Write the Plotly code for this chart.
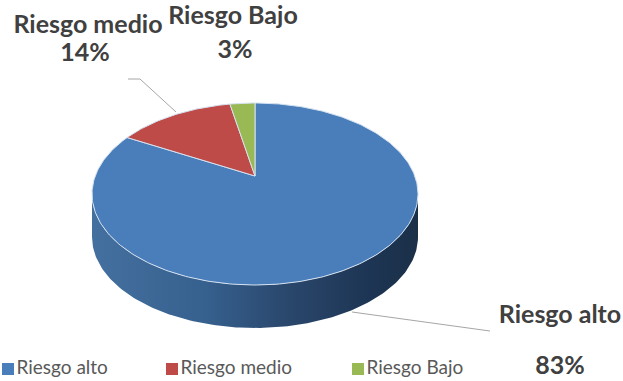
import numpy as np
import plotly.graph_objects as go

# Chart data
categories = ["Riesgo alto", "Riesgo medio", "Riesgo Bajo"]
percentages = [83, 14, 3]

# Slice and label styling
slice_colors = ["#4A7EBB", "#BE4B48", "#98B954"]
text_dark = "#404040"
text_legend = "#595959"
label_font = "Lato"

# Tilted disc geometry, in canvas pixels
WIDTH, HEIGHT = 623, 381
CX, CY = 255, 194
RX, RY = 163, 91
APEX_RISE = 18
DEPTH = 43


def project(theta):
    """Perspective projection of a unit circle angle (clockwise from 12 o'clock)."""
    u, v = np.sin(theta), np.cos(theta)
    p = -APEX_RISE / RY
    w = 1 - p * v
    a = RX * np.sqrt(1 - p * p)
    return CX + a * u / w, CY - (RY * v + APEX_RISE) / w


fig = go.Figure()

# Front wall of the disc: swept along the rim that faces the viewer
theta_edge = np.arccos(-APEX_RISE / RY)
rim = np.linspace(theta_edge, 2 * np.pi - theta_edge, 160)
rim_x, rim_y = project(rim)
fig.add_trace(go.Scatter(
    x=np.r_[rim_x, rim_x[::-1]],
    y=np.r_[rim_y, rim_y[::-1] + DEPTH],
    mode="lines", line=dict(width=0), fill="toself",
    fillgradient=dict(type="horizontal", colorscale=[
        [0, "#44709F"], [0.35, "#36608E"], [0.6, "#2A476C"], [0.85, "#1D3554"], [1, "#1B3048"],
    ]),
    hoverinfo="skip", showlegend=False,
))

# Top face: one wedge per category, clockwise from 12 o'clock
edges = np.cumsum([0] + percentages) / sum(percentages) * 2 * np.pi
apex_y = CY - APEX_RISE
for name, color, start, stop in zip(categories, slice_colors, edges[:-1], edges[1:]):
    arc = np.linspace(start, stop, max(int((stop - start) * 60), 8))
    arc_x, arc_y = project(arc)
    fig.add_trace(go.Scatter(
        x=np.r_[CX, arc_x, CX], y=np.r_[apex_y, arc_y, apex_y],
        mode="lines", line=dict(color="#D5E2F0", width=1),
        fill="toself", fillcolor=color, name=name, showlegend=False,
    ))

# Leader lines from the slices to their labels
leader_x = [[128, 140, 176], [352, 430, 490]]
leader_y = [[79, 79, 112], [312, 323, 331]]
for lx, ly in zip(leader_x, leader_y):
    fig.add_trace(go.Scatter(x=lx, y=ly, mode="lines",
                             line=dict(color="#A6A6A6", width=1),
                             hoverinfo="skip", showlegend=False))

# Data labels
label_x = [88, 85, 233, 235, 560, 560]
label_y = [27, 55, 18, 52, 317, 368]
label_text = [categories[1], f"{percentages[1]}%",
              categories[2], f"{percentages[2]}%",
              categories[0], f"{percentages[0]}%"]
fig.add_trace(go.Scatter(
    x=label_x, y=label_y, text=label_text, mode="text",
    textposition="middle center",
    textfont=dict(family=label_font, size=25, color=text_dark, weight="bold"),
    hoverinfo="skip", showlegend=False,
))

# Legend row along the bottom
key_x = [8, 172, 358]
key_y = 369
fig.add_trace(go.Scatter(
    x=key_x, y=[key_y] * 3, text=categories, mode="markers+text",
    marker=dict(symbol="square", size=12, color=slice_colors),
    textposition="middle right",
    textfont=dict(family=label_font, size=19, color=text_legend),
    hoverinfo="skip", showlegend=False,
))

fig.update_layout(
    width=WIDTH, height=HEIGHT,
    margin=dict(l=0, r=0, t=0, b=0),
    paper_bgcolor="white", plot_bgcolor="white",
    xaxis=dict(range=[0, WIDTH], visible=False, fixedrange=True),
    yaxis=dict(range=[HEIGHT, 0], visible=False, fixedrange=True),
    showlegend=False,
)

fig.write_html("out.html")
